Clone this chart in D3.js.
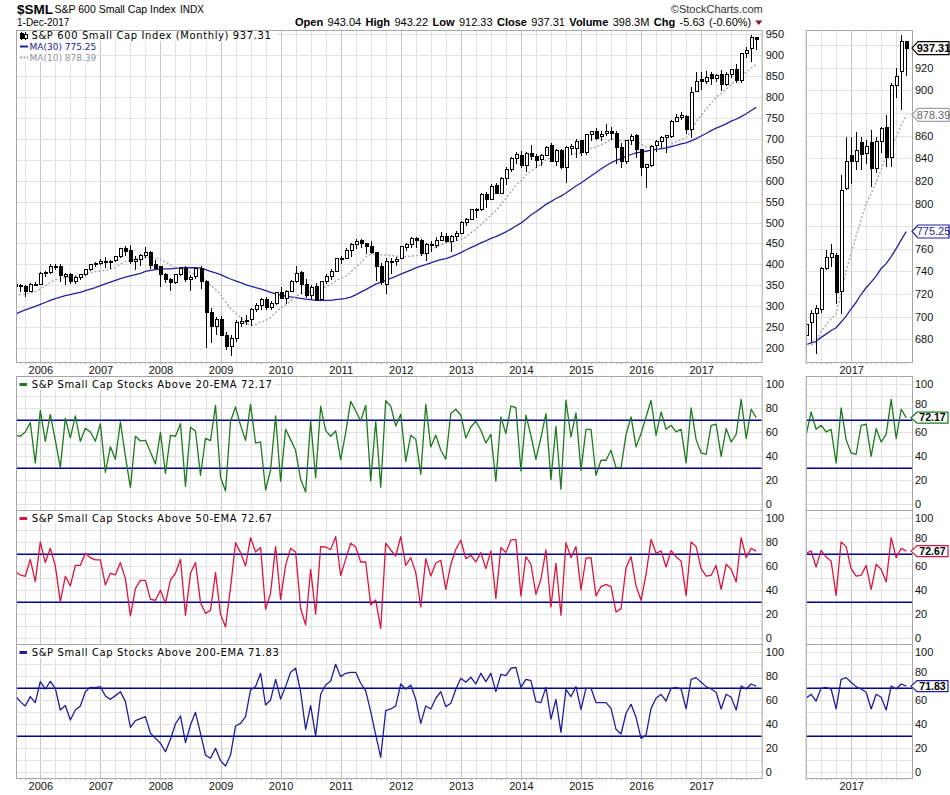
<!DOCTYPE html>
<html><head><meta charset="utf-8">
<script src="https://cdn.jsdelivr.net/npm/d3@7"></script>
<style>body{margin:0;background:#fff;}svg{display:block;}</style>
</head><body>
<svg id="c" width="950" height="795"></svg>
<script>
// ---------------- DATA ----------------
const startYear = 2005, startMonth = 7; // first bar: Aug 2005 (month index 0-based)
const opens = [
 352,346,348,335,352,
 351,378,380,394,395,372,375,358.6,368,374.6,388,398.5,
 402.5,408,404,408.8,418.4,438,432,406.5,412,420,428,398.5,
 394.5,374.6,362.6,357,374.6,390.5,362.6,370.6,390.5,358.6,284.5,251,
 267,231,203,223,259,263,267,292.5,300.5,314.8,297.3,306.8,
 332.3,318.8,334.7,358.6,380,350.7,325,348,317,358,372,384,
 412,414.4,434.3,446.3,456.7,450,442.3,428,396,352,405,408,
 414,440,448.6,462,456,426,448,446,458,467,455,466,
 474,500.4,507.6,528,530,566,556,589.7,569.7,605.6,627,653.4,
 661,637.5,665.4,659,651,661.4,683,645.5,671.8,631,677.3,677,
 695.7,667,710.8,717.2,706.8,713.2,717.2,714,680,645,695,709,
 675,632,637.5,683,694.7,703.2,706.2,742.5,752.2,754.3,721.8,813.2,
 842.7,836.8,853.6,844.2,853.6,831,854.5,866.9,840.7,904.7,916.5,943.04];
const highs = [
 356,352,350,355,358,
 382,384,402,400,402,379,380,371,377,390,402,405,
 412,418,410,421,440,444,446,420,425,442,432,410,
 396,380,368,378,394,396,375,392,397,362,296,275,
 277,238,230,266,275,280,295,308,320,322,312,334,
 345,338,362,396,385,365,350,355,360,376,390,416,
 420,440,450,460,461,452,455,430,403,415,414,418,
 445,452,465,465,460,450,455,465,478,475,470,480,
 503,512,532,535,570,572,592,595,610,632,656,668,
 670,668,685,665,663,682,690,675,675,682,688,700,
 697,712,720,726,720,735,728,720,690,698,712,712,
 676,640,685,697,706,710,744,758.7,764.6,756,825,858.9,
 858.9,863.4,858.9,856,865,858.9,868,878,906.2,919.4,948.9,943.22];
const lows = [
 340,335,321,333,348,
 350,370,377,386,358,350,352,352,362,372,384,394,
 398,392,390,405,416,420,400,386,395,415,388,388,
 345,355,337,352,372,358,336,364,340,200,211,232,
 228,196,181,215,250,255,252,285,290,292,290,303,
 316,305,333,356,330,320,318,312,315,352,362,383,
 402,412,418,436,438,425,425,360,350,330,377,395,
 412,432,440,440,420,408,430,438,455,450,430,455,
 472,492,505,510,528,535,555,568,568,590,620,640,
 630,620,650,630,635,658,644,635,629,595,662,655,
 660,662,695,698,695,708,698,640,630,640,685,655,
 612,582,632,668,678,667,703,741,744,711.5,702.6,811.7,
 817.6,830,829.5,835,814.7,827,845,832.4,832.4,893,882.6,912.33];
const closes = [
 346,349,335,352,351,
 378.6,380,394.5,395,372.2,375,358.6,368.2,374.6,388.1,398.5,402.5,
 406.5,404,408,418.4,438.3,430,406.5,412,420,428,397,390.5,
 374.6,362.6,357,374.6,390.5,362.6,369,390.5,358.6,284.5,251,267,
 231,203,223,260.6,263,265,292.5,300.5,314.8,297.3,306.8,332.3,
 318.8,334.7,358.6,378.6,350.7,325,345,316.4,358,372,384,414.4,
 414.4,434.3,446.3,454.3,448.7,442.3,428,394.5,356,406,407,411,
 442,447.8,462,456,426.3,448,446,458,467,455,466,474,
 500.4,508.4,530,532,565.8,556,587.3,569.7,605.6,627,653.4,663.8,
 637.5,665.4,659,649,661,679,645.5,671.8,631,679,681.3,693.3,
 667,710.8,717.2,701.3,710.8,717.2,714,680,645,695,705,675,
 632,638,681.3,692.9,703.2,707.1,742.5,752.2,755.8,721.2,811.8,836.8,
 837.4,846.6,843.6,850.7,830.9,854.5,866,840.7,904.7,912,943,937.31];
// closes before the visible window (Mar 2003 - Jul 2005), used for the moving averages
const priorCloses = [182,197,216,224,237,249,244,264,274,270,
 280,284,289,276,281,294,275,272,285,290,314,328,
 315,323,316,300,318,330,350];
const above20 = [
 57.5,56.7,60.3,68.1,34.4,
 78.3,52.5,75,53.3,30.6,71.7,55.3,73.6,52.5,63.3,60.3,52.5,
 67.2,26.7,48,37.5,68.6,40,13.9,56.7,52.8,53.3,43.6,33.6,
 60,25.8,57.5,56.7,67.2,15,64.2,61.1,24.2,55,53,82.5,
 22.5,11.1,69.2,81.1,65.8,53.3,83.3,51.1,51.9,11.9,28.6,73.6,
 19.2,62.5,53.9,45,20.8,10.3,69.2,22.2,81.7,61.4,56.7,61.1,
 37.2,59.7,85.8,78,69.4,82.5,19.4,69.2,14.2,86.4,81.7,65.3,
 75,35.8,57.5,54.2,25,83.3,47.8,57.5,45,37.5,75.6,79.2,
 74.2,55.3,64.4,69.2,61.7,51.1,58.3,19.2,72.8,58.9,81.9,80.6,
 27.8,74.2,57.5,37.5,55.6,75.6,20.6,65,12.5,86.7,56.1,76.1,
 28.3,62.5,62.5,24.2,36.7,36.7,45,30.6,30.6,58.1,72.8,47.8,
 58.9,72.8,86.7,57.5,76.9,62.5,65.8,60.3,62.5,34.4,80.3,53.9,
 42.8,41.7,65.8,66.7,40,63.1,51.9,58.3,87.5,54.7,79.2,72.17];
const above50 = [
 55.6,52.8,51.7,65.8,47.2,
 80.3,63.1,75,60.3,30.6,51.7,43.6,60.8,60.8,70.8,67.2,65.3,
 65.3,44.4,54.2,52.8,63.1,49.7,18.6,41.4,48.3,48.3,32.5,31.7,
 40,29.2,48.6,54.2,65.8,19.2,54.2,63.1,29.7,20.8,23.3,54.7,
 20,9.4,42.2,79.7,71.4,60.3,83.9,71.9,75.6,24.2,37.5,76.4,
 32.5,60.8,75,71.9,25,11.1,57.5,20,76.4,76.1,73.9,84.7,
 52.5,65.8,79.2,76.1,63.6,63.6,27.8,31.9,8.3,79.2,73.6,68.6,
 84.7,60.8,67.2,54.7,26.1,66.4,51.9,62.5,65,40.8,61.7,74.2,
 81.7,66.4,69.2,63.6,71.4,58.1,72.8,33.3,75.6,71.4,81.9,82.5,
 35.3,68.1,61.7,36.7,49.2,73.6,26.1,62.5,19.2,79.7,67.2,76.4,
 40.3,66.7,67.2,35.3,43.1,45,43.1,21.9,24.7,58.9,68.1,43.6,
 31.7,53.3,82.5,70.8,72.8,59.4,73.3,67.8,64.4,35.8,80.3,76.4,
 58.1,51.9,52.5,60.8,40.8,61.7,57.5,46.9,83.9,67.2,75,72.67];
const above200 = [
 63.9,58.9,55.3,63.1,58.1,
 75.6,69.4,75.8,70,51.9,55.6,43.6,51.9,55.3,67.2,70.8,70.6,
 71.4,63.6,60.8,63.9,67.2,58.9,37.5,43.1,44.7,46.4,32.5,28.3,
 24.2,17.2,27.5,40.3,46.9,24.7,39.4,50,32.5,14.4,11.7,20,
 9.7,5.3,14.4,38.6,40.8,46.4,68.6,71.4,82.5,56.1,60.3,77.5,
 61.1,71.4,83.3,86.7,67.2,35.8,55.6,30.3,65,72.8,76.1,90,
 79.7,82.5,83.3,83.3,74.2,67.8,50.6,31.1,12.5,51.4,52.8,55.3,
 73.6,69.2,72.8,60.8,40.8,55.3,52.8,61.7,67.2,54.7,57.5,69.2,
 78.3,75,79.2,73.6,82.5,75.6,82.5,67.2,81.7,80.6,86.7,87.5,
 70.8,77.5,76.4,58.9,58.1,70.8,44.4,60.8,33.3,69.2,63.1,71.4,
 52.5,70,70,58.1,58.1,58.1,53.3,35.8,31.9,49.2,56.7,45.8,
 28.3,31.1,53.3,61.7,65,59.4,70,70.8,69.4,52.8,77.5,78.9,
 75,71.4,69.4,66.7,52.8,65,62.5,51.9,71.9,69.4,73.6,71.83];
const yearLabels = ["2006","2007","2008","2009","2010","2011","2012","2013","2014","2015","2016","2017"];
const priceTicks = [200,250,300,350,400,450,500,550,600,650,700,750,800,850,900,950];
const zoomTicks = [680,700,720,740,760,780,800,820,840,860,880,900,920,940];
const pctTicks = [0,20,40,60,80,100];
const refLevels = [30,70];
const headerLabels = ["Open","High","Low","Close","Volume","Chg"];
const headerValues = ["943.04","943.22","912.33","937.31","398.3M","-5.63 (-0.60%)"];
const lastMA30 = 775.25, lastMA10 = 878.39;
const indicators = [
  {name:"S&P Small Cap Stocks Above 20-EMA", values:above20, color:"#1b7a1b"},
  {name:"S&P Small Cap Stocks Above 50-EMA", values:above50, color:"#dc143c"},
  {name:"S&P Small Cap Stocks Above 200-EMA", values:above200, color:"#1e1e9c"}
];

// ---------------- LAYOUT ----------------
const svg = d3.select("#c");
const MAIN = {l:16, r:762.7, t:30, b:362};
const ZOOM = {l:805.7, r:913};
const PANELS = [{t:376,b:510},{t:510,b:644},{t:644,b:778}];
const N = closes.length;
const monthOf = i => (startMonth + i) % 12;
const yearOf = i => startYear + Math.floor((startMonth + i) / 12);
const idx = d3.range(N);
const yearIdx = idx.filter(i => monthOf(i) === 0);
const quarterIdx = idx.filter(i => monthOf(i) % 3 === 0);

const x = d3.scaleLinear().domain([0, N-1]).range([15.27, 756.2]);
const xz = d3.scaleLinear().domain([0, N-1]).range([165.27, 906.2]);
const yMain = d3.scaleLinear().domain([200, 950]).range([348, 34.3]);
const yZoom = d3.scaleLinear().domain([680, 920]).range([339.3, 67.7]);
const yPct = PANELS.map(p => d3.scaleLinear().domain([0,100]).range([p.b-5.7, p.t+8.3]));

const GRID = "#e2e2e2", GRIDY = "#c6c6c6", BORDER = "#a6a6a6";
const defs = svg.append("defs");
function clip(id, x0, y0, x1, y1){
  defs.append("clipPath").attr("id", id).append("rect")
    .attr("x", x0).attr("y", y0).attr("width", x1-x0).attr("height", y1-y0);
  return "url(#" + id + ")";
}

// ---------------- HEADER ----------------
svg.append("text").attr("x",17).attr("y",13.5).attr("font-family","Liberation Sans, Arial")
  .attr("font-weight","bold").attr("font-size",13.5).text("$SML");
svg.append("text").attr("x",54.5).attr("y",13.3).attr("font-family","Liberation Sans, Arial")
  .attr("font-size",10.5).text("S&P 600 Small Cap Index");
svg.append("text").attr("x",180).attr("y",13.3).attr("font-family","Liberation Sans, Arial")
  .attr("font-size",10).text("INDX");
svg.append("text").attr("x",17).attr("y",25.8).attr("font-family","Liberation Sans, Arial")
  .attr("font-size",10).text("1-Dec-2017");
svg.append("text").attr("x",762.7).attr("y",12.5).attr("text-anchor","end")
  .attr("font-family","Liberation Sans, Arial").attr("font-size",11).attr("fill","#333")
  .text("\u00A9StockCharts.com");
const hdr = svg.append("text").attr("x",295).attr("y",26).attr("font-family","Liberation Sans, Arial")
  .attr("font-size",11).attr("word-spacing","1.4px");
headerLabels.forEach((l,i)=>{
  hdr.append("tspan").attr("font-weight","bold").attr("dx", i? 4.4:0).text(l);
  hdr.append("tspan").attr("dx",4.4).text(headerValues[i]);
});
const hb = hdr.node().getBBox();
const tx = hb.x + hb.width + 4;
svg.append("path").attr("d",`M${tx},20.5 L${tx+7},20.5 L${tx+3.5},25 Z`).attr("fill","#8b0a2a");

// ---------------- GRID helpers ----------------
function vGrid(g, xs, x0, x1, y0, y1){
  quarterIdx.forEach(i=>{
    const xx = Math.round(xs(i))+0.5;
    if (xx < x0 || xx > x1) return;
    g.append("line").attr("x1",xx).attr("x2",xx).attr("y1",y0).attr("y2",y1)
      .attr("stroke", monthOf(i)===0 ? GRIDY : GRID).attr("stroke-width",1);
  });
}
function hGrid(g, ys, vals, x0, x1, y0, y1){
  vals.forEach(v=>{
    const yy = Math.round(ys(v))+0.5;
    if (yy < y0 || yy > y1) return;
    g.append("line").attr("x1",x0).attr("x2",x1).attr("y1",yy).attr("y2",yy)
      .attr("stroke",GRID).attr("stroke-width",1);
  });
}
function frame(x0,y0,x1,y1){
  svg.append("rect").attr("x",x0+0.5).attr("y",y0+0.5).attr("width",x1-x0-1).attr("height",y1-y0)
    .attr("fill","none").attr("stroke",BORDER).attr("stroke-width",1);
}
function styleAxis(g, size){
  g.select(".domain").remove();
  g.selectAll("text").attr("font-family","Liberation Sans, Arial").attr("font-size",size).attr("fill","#111");
  g.attr("font-family",null).attr("font-size",null);
  return g;
}
function rightAxis(scale, vals, xpos, pad){
  const g = svg.append("g").attr("transform",`translate(${xpos},0)`)
    .call(d3.axisRight(scale).tickValues(vals).tickSize(0).tickPadding(pad).tickFormat(d3.format("d")));
  return styleAxis(g, 11);
}
function bottomAxis(xs, ypos, ids){
  const g = svg.append("g").attr("transform",`translate(0,${ypos})`)
    .call(d3.axisBottom(xs).tickValues(ids).tickSize(0).tickPadding(4.2).tickFormat(i=>String(yearOf(i))));
  styleAxis(g, 11);
}
function monthTicks(xs, x0, x1, ypos){
  idx.forEach(i=>{
    const xx = Math.round(xs(i))+0.5;
    if (xx < x0 || xx > x1) return;
    svg.append("line").attr("x1",xx).attr("x2",xx).attr("y1",ypos).attr("y2",ypos+2)
      .attr("stroke","#b8b8b8");
  });
}
function tag(xTip, yc, label, stroke, textFill, bold, h, fs){
  const w = 37;
  h = h || 13; fs = fs || 11;
  svg.append("path").attr("d",`M${xTip},${yc} L${xTip+6},${yc-h/2} L${xTip+w},${yc-h/2} L${xTip+w},${yc+h/2} L${xTip+6},${yc+h/2} Z`)
    .attr("fill","#fff").attr("stroke",stroke).attr("stroke-width",1.2);
  svg.append("text").attr("x",xTip+w/2+3).attr("y",yc+fs*0.36).attr("text-anchor","middle")
    .attr("font-family","Liberation Sans, Arial").attr("font-size",fs)
    .attr("font-weight", bold ? "bold" : "normal").attr("fill",textFill).text(label);
}

// ---------------- PRICE PANEL ----------------
const allCloses = priorCloses.concat(closes);
function sma(n){
  return closes.map((c,i)=>{ const j = i + priorCloses.length; return d3.mean(allCloses.slice(j-n+1, j+1)); });
}
const ma30 = sma(30), ma10 = sma(10);

function pricePanel(xs, ys, x0, x1, gridVals, clipId){
  const gg = svg.append("g");
  vGrid(gg, xs, x0, x1, MAIN.t, MAIN.b);
  hGrid(gg, ys, gridVals, x0, x1, MAIN.t, MAIN.b);
  const g = svg.append("g").attr("clip-path", clip(clipId, x0+1, MAIN.t+1, x1-1, MAIN.b));
  g.append("path").datum(ma30).attr("fill","none").attr("stroke","#22229f").attr("stroke-width",1.3)
    .attr("d", d3.line().x((d,i)=>xs(i)).y(d=>ys(d)));
  g.append("path").datum(ma10).attr("fill","none").attr("stroke","#a0aab3").attr("stroke-width",1.4)
    .attr("stroke-dasharray","2,2").attr("d", d3.line().x((d,i)=>xs(i)).y(d=>ys(d)));
  const cg = g.append("g").attr("shape-rendering","crispEdges");
  idx.forEach(i=>{
    const cx = Math.round(xs(i));
    cg.append("line").attr("x1",cx+0.5).attr("x2",cx+0.5).attr("y1",ys(highs[i])).attr("y2",ys(lows[i]))
      .attr("stroke","#000").attr("stroke-width",1);
    const up = closes[i] >= opens[i];
    const top = ys(Math.max(opens[i],closes[i])), bot = ys(Math.min(opens[i],closes[i]));
    cg.append("rect").attr("x",cx-1).attr("y",top).attr("width",3).attr("height",Math.max(bot-top,1))
      .attr("fill", up ? "#fff" : "#000").attr("stroke","#000").attr("stroke-width",1);
  });
  frame(x0, MAIN.t, x1, MAIN.b);
}
pricePanel(x, yMain, MAIN.l, MAIN.r, priceTicks, "cMain");
pricePanel(xz, yZoom, ZOOM.l, ZOOM.r, zoomTicks, "cZoom");
rightAxis(yMain, priceTicks, MAIN.r, 3);
// zoom axis labels: those hidden behind the value tags are left out
const tagValues = [closes[N-1], lastMA10, lastMA30];
const zoomLabelTicks = zoomTicks.filter(v => tagValues.every(t => Math.abs(yZoom(v) - yZoom(t)) > 11));
rightAxis(yZoom, zoomLabelTicks, ZOOM.r, 2);
monthTicks(x, MAIN.l, MAIN.r, MAIN.b);
monthTicks(xz, ZOOM.l, ZOOM.r, MAIN.b);
bottomAxis(x, MAIN.b, yearIdx);
bottomAxis(xz, MAIN.b, yearIdx.filter(i=>xz(i)>ZOOM.l && xz(i)<ZOOM.r));

// price legend
svg.append("rect").attr("x",17).attr("y",31).attr("width",260).attr("height",10).attr("fill","#fff");
svg.append("rect").attr("x",17).attr("y",41).attr("width",78).attr("height",11).attr("fill","#fff");
svg.append("rect").attr("x",17).attr("y",52).attr("width",78).attr("height",10).attr("fill","#fff");
const ic = svg.append("g").attr("shape-rendering","crispEdges");
ic.append("line").attr("x1",21.5).attr("x2",21.5).attr("y1",32).attr("y2",40).attr("stroke","#000");
ic.append("rect").attr("x",20).attr("y",33).attr("width",3).attr("height",5).attr("fill","#000").attr("stroke","#000");
ic.append("line").attr("x1",25.5).attr("x2",25.5).attr("y1",32).attr("y2",40).attr("stroke","#000");
ic.append("rect").attr("x",24).attr("y",34).attr("width",3).attr("height",4).attr("fill","#fff").attr("stroke","#000");
svg.append("text").attr("x",31.5).attr("y",38.8).attr("font-family","DejaVu Sans, Verdana")
  .attr("font-size",10).attr("letter-spacing","0.6px").attr("fill","#000")
  .text("S&P 600 Small Cap Index (Monthly) " + d3.format(".2f")(closes[N-1]));
svg.append("line").attr("x1",20).attr("x2",28).attr("y1",46.5).attr("y2",46.5).attr("stroke","#22229f").attr("stroke-width",2);
svg.append("text").attr("x",29.5).attr("y",49.5).attr("font-family","DejaVu Sans, Verdana")
  .attr("font-size",9).attr("fill","#22229f").text("MA(30) " + lastMA30.toFixed(2));
svg.append("line").attr("x1",20).attr("x2",28).attr("y1",57.5).attr("y2",57.5).attr("stroke","#97a3ad")
  .attr("stroke-width",2).attr("stroke-dasharray","2,1.5");
svg.append("text").attr("x",29.5).attr("y",60.5).attr("font-family","DejaVu Sans, Verdana")
  .attr("font-size",9).attr("fill","#8a949c").text("MA(10) " + lastMA10.toFixed(2));

tag(ZOOM.r - 1, yZoom(closes[N-1]), closes[N-1].toFixed(2), "#000", "#000", true);
tag(ZOOM.r - 1, yZoom(lastMA10), lastMA10.toFixed(2), "#9aa3ab", "#666", false);
tag(ZOOM.r - 1, yZoom(lastMA30), lastMA30.toFixed(2), "#22229f", "#22229f", false);

// ---------------- INDICATOR PANELS ----------------
indicators.forEach((ind, k)=>{
  const P = PANELS[k], ys = yPct[k];
  const last = ind.values[N-1];
  [[x, MAIN.l, MAIN.r, "m"], [xz, ZOOM.l, ZOOM.r, "z"]].forEach(([xs, x0, x1, tagk])=>{
    const gg = svg.append("g");
    vGrid(gg, xs, x0, x1, P.t, P.b);
    hGrid(gg, ys, d3.range(0, 101, 10), x0, x1, P.t, P.b);
    const g = svg.append("g").attr("clip-path", clip("c"+k+tagk, x0+1, P.t+1, x1-1, P.b));
    refLevels.forEach(v=>{
      g.append("line").attr("x1",x0).attr("x2",x1).attr("y1",ys(v)).attr("y2",ys(v))
        .attr("stroke","#000090").attr("stroke-width",1.5);
    });
    g.append("path").datum(ind.values).attr("fill","none").attr("stroke",ind.color).attr("stroke-width",1.3)
      .attr("stroke-linejoin","round").attr("d", d3.line().x((d,i)=>xs(i)).y(d=>ys(d)));
    frame(x0, P.t, x1, P.b);
  });
  rightAxis(ys, pctTicks, MAIN.r, 3);
  const za = rightAxis(ys, pctTicks, ZOOM.r, 2);
  // nudge the zoom-axis label sitting right next to the value tag so both stay readable
  za.selectAll(".tick").each(function(v){
    const d = ys(v) - ys(last);
    if (Math.abs(d) < 12) d3.select(this).select("text").attr("dy", d < 0 ? "-0.05em" : "0.7em");
  });
  // legend
  const txt = ind.name + " " + d3.format(".2f")(last);
  svg.append("rect").attr("x",17).attr("y",P.t+1).attr("width",256).attr("height",13).attr("fill","#fff");
  svg.append("line").attr("x1",19.5).attr("x2",27).attr("y1",P.t+8.5).attr("y2",P.t+8.5)
    .attr("stroke",ind.color).attr("stroke-width",3);
  svg.append("text").attr("x",31.7).attr("y",P.t+12).attr("font-family","DejaVu Sans, Verdana")
    .attr("font-size",10).attr("letter-spacing","0.6px").attr("fill","#000").text(txt);
  tag(ZOOM.r - 2, ys(last), d3.format(".2f")(last), ind.color, "#000", true, 11, 10.5);
});
monthTicks(x, MAIN.l, MAIN.r, PANELS[2].b);
monthTicks(xz, ZOOM.l, ZOOM.r, PANELS[2].b);
bottomAxis(x, PANELS[2].b, yearIdx);
bottomAxis(xz, PANELS[2].b, yearIdx.filter(i=>xz(i)>ZOOM.l && xz(i)<ZOOM.r));
</script>
</body></html>
